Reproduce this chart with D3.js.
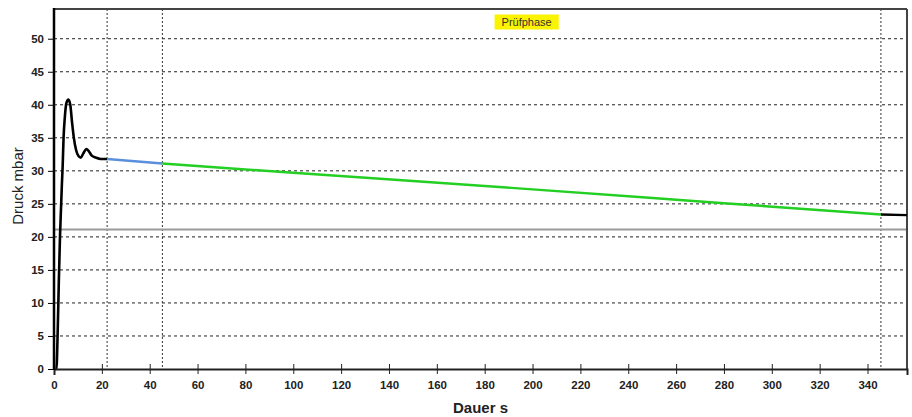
<!DOCTYPE html>
<html>
<head>
<meta charset="utf-8">
<script src="https://cdn.jsdelivr.net/npm/d3@7"></script>
<style>
  body { margin: 0; background: #fff; }
  svg { display: block; }
</style>
</head>
<body>
<svg width="912" height="417"></svg>
<script>

// Druckverlauf (t in s, p in mbar)
var fuellTime = [0.5, 1.0, 1.5, 2.0, 2.5, 3.0, 3.3, 3.6, 4.0, 4.5, 5.2, 6.0, 6.8, 7.5, 8.3, 9.2, 10.3, 11.2, 12.2, 13.5, 14.5, 15.8, 17.5, 19.5, 22.2];
var fuellDruck = [0, 0, 5, 13, 20, 25, 28, 30.5, 35, 38, 40.3, 40.8, 40, 37.5, 35, 33.2, 32.2, 32.0, 32.6, 33.3, 33.0, 32.3, 32.0, 31.8, 31.8];

var beruhigTime = [22.2, 45.3];
var beruhigDruck = [31.8, 31.1];

var pruefTime = [45.3, 100, 200, 280, 345.6];
var pruefDruck = [31.1, 29.7, 27.2, 25.1, 23.4];

var endTime = [345.6, 356.5];
var endDruck = [23.4, 23.3];

var phaseMarks = [22.2, 45.3, 345.6];
var grenzwert = 21.1;

var xTicks = [0, 20, 40, 60, 80, 100, 120, 140, 160, 180, 200, 220, 240, 260, 280, 300, 320, 340];
var yTicks = [0, 5, 10, 15, 20, 25, 30, 35, 40, 45, 50];

var svg = d3.select("svg"),
    margin = {top: 9, right: 5, bottom: 48, left: 54},
    width = +svg.attr("width") - margin.left - margin.right,
    height = +svg.attr("height") - margin.top - margin.bottom,
    g = svg.append("g").attr("transform", "translate(" + margin.left + "," + margin.top + ")");

var x = d3.scaleLinear().domain([0, 356.5]).range([0, width]);
var y = d3.scaleLinear().domain([0, 54.5]).range([height, 0]);

var font = "'Liberation Sans', Arial, sans-serif";

// Gitter
g.append("g")
  .selectAll("line")
  .data(yTicks.filter(function(d) { return d > 0; }))
  .enter().append("line")
    .attr("x1", 0).attr("x2", width)
    .attr("y1", function(d) { return y(d); })
    .attr("y2", function(d) { return y(d); })
    .attr("stroke", "#222")
    .attr("stroke-width", 1)
    .attr("stroke-dasharray", "3,3");

g.append("g")
  .selectAll("line")
  .data(phaseMarks)
  .enter().append("line")
    .attr("x1", function(d) { return x(d); })
    .attr("x2", function(d) { return x(d); })
    .attr("y1", 0).attr("y2", height)
    .attr("stroke", "#333")
    .attr("stroke-width", 1)
    .attr("stroke-dasharray", "2,2");

// Grenzwert
g.append("line")
  .attr("x1", 0).attr("x2", width)
  .attr("y1", y(grenzwert)).attr("y2", y(grenzwert))
  .attr("stroke", "#9a9a9a")
  .attr("stroke-width", 2);

// Rahmen
g.append("line").attr("x1", 0).attr("x2", width).attr("y1", 0).attr("y2", 0)
  .attr("stroke", "#444").attr("stroke-width", 2);
g.append("line").attr("x1", width).attr("x2", width).attr("y1", 0).attr("y2", height)
  .attr("stroke", "#444").attr("stroke-width", 2);

// Kurven
var line = d3.line()
  .x(function(d) { return x(d[0]); })
  .y(function(d) { return y(d[1]); })
  .curve(d3.curveMonotoneX);

function draw(ts, ps, color, w) {
  g.append("path")
    .datum(d3.zip(ts, ps))
    .attr("fill", "none")
    .attr("stroke", color)
    .attr("stroke-width", w)
    .attr("stroke-linejoin", "round")
    .attr("d", line);
}

draw(fuellTime, fuellDruck, "#000", 2.6);
draw(beruhigTime, beruhigDruck, "#5b8fdc", 2.4);
draw(pruefTime, pruefDruck, "#22cf22", 2.4);
draw(endTime, endDruck, "#000", 2.4);

// Achsen
var xAxis = g.append("g")
  .attr("transform", "translate(0," + height + ")")
  .call(d3.axisBottom(x).tickValues(xTicks).tickSize(6).tickPadding(6));
xAxis.select(".domain").attr("stroke", "#222").attr("stroke-width", 2);
xAxis.selectAll(".tick line").attr("y1", -5).attr("y2", 5).attr("stroke", "#222");
xAxis.selectAll("text")
  .attr("y", 12)
  .style("font", "bold 11.5px " + font)
  .attr("fill", "#222");

var yAxis = g.append("g")
  .call(d3.axisLeft(y).tickValues(yTicks).tickSize(6).tickPadding(4));
yAxis.select(".domain").remove();
yAxis.selectAll("text")
  .style("font", "bold 11.5px " + font)
  .attr("fill", "#222");
g.append("line").attr("x1", 0).attr("x2", 0).attr("y1", -1).attr("y2", height + 1)
  .attr("stroke", "#000").attr("stroke-width", 2.5);

// Achsentitel
svg.append("text")
  .attr("x", margin.left + width / 2)
  .attr("y", 413)
  .attr("text-anchor", "middle")
  .style("font", "bold 15px " + font)
  .attr("fill", "#222")
  .text("Dauer s");

svg.append("text")
  .attr("transform", "translate(23,186) rotate(-90)")
  .attr("text-anchor", "middle")
  .style("font", "15px " + font)
  .attr("fill", "#222")
  .text("Druck mbar");

// Phasenbeschriftung
var mid = (phaseMarks[1] + phaseMarks[2]) / 2;
var label = g.append("g").attr("transform", "translate(" + (x(mid) + 5) + ",13)");
var lt = label.append("text")
  .attr("text-anchor", "middle")
  .attr("dy", "0.35em")
  .style("font", "11px " + font)
  .attr("fill", "#333")
  .text("Prüfphase");
var bb = lt.node().getBBox();
label.insert("rect", "text")
  .attr("x", bb.x - 7).attr("y", -7.5)
  .attr("width", bb.width + 14).attr("height", 15)
  .attr("fill", "#fbf400");

</script>
</body>
</html>
